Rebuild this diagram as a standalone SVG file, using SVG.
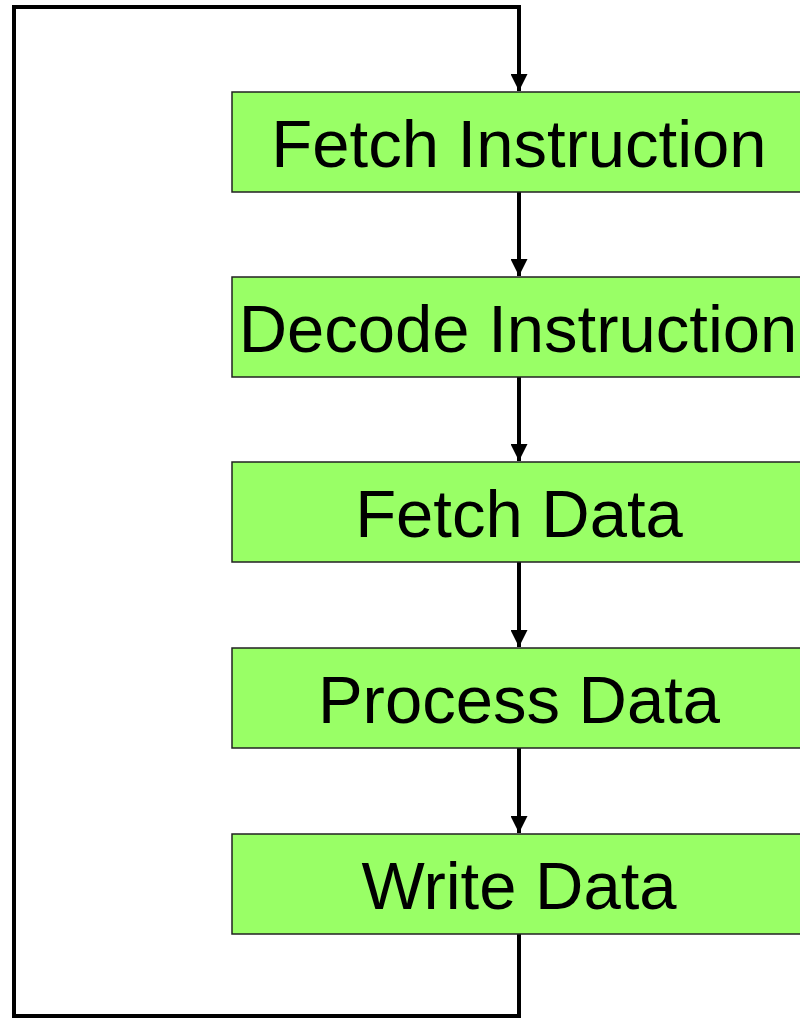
<svg xmlns="http://www.w3.org/2000/svg" width="800" height="1018" viewBox="0 0 800 1018">
<style>
.box{fill:#99ff66;stroke:#222;stroke-width:1.5}
.lbl{font-family:"Liberation Sans",Arial,sans-serif;font-size:67px;fill:#000;text-anchor:middle}
.conn{fill:none;stroke:#000;stroke-width:4}
</style>
<defs>
<marker id="ah" markerUnits="userSpaceOnUse" markerWidth="17" markerHeight="17" viewBox="0 0 17 17" refX="17" refY="8.5" orient="auto">
<path d="M0,0 L17,8.5 L0,17 z" fill="#000"/>
</marker>
</defs>
<rect width="800" height="1018" fill="#fff"/>
<g id="connectors">
<path class="conn" d="M519,934 V1016 H14 V7 H519 V91" marker-end="url(#ah)"/>
<path class="conn" d="M519,192 V276" marker-end="url(#ah)"/>
<path class="conn" d="M519,377 V461" marker-end="url(#ah)"/>
<path class="conn" d="M519,562 V647" marker-end="url(#ah)"/>
<path class="conn" d="M519,748 V833" marker-end="url(#ah)"/>
</g>
<g id="n1"><rect class="box" x="232" y="92" width="574" height="100"/><text class="lbl" x="519" y="167">Fetch Instruction</text></g>
<g id="n2"><rect class="box" x="232" y="277" width="574" height="100"/><text class="lbl" x="518" y="352">Decode Instruction</text></g>
<g id="n3"><rect class="box" x="232" y="462" width="574" height="100"/><text class="lbl" x="519" y="537">Fetch Data</text></g>
<g id="n4"><rect class="box" x="232" y="648" width="574" height="100"/><text class="lbl" x="519" y="723">Process Data</text></g>
<g id="n5"><rect class="box" x="232" y="834" width="574" height="100"/><text class="lbl" x="519" y="909">Write Data</text></g>
</svg>
